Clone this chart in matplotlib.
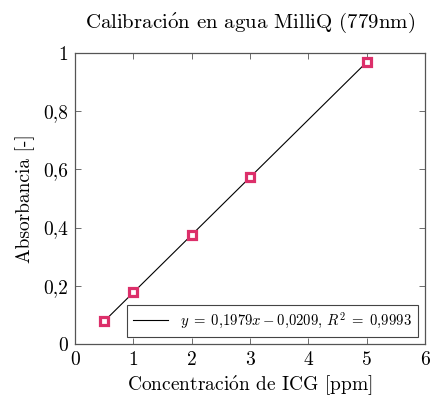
import numpy as np
import matplotlib.pyplot as plt

plt.rcParams['font.family'] = 'serif'
plt.rcParams['font.serif'] = ['cmr10']
plt.rcParams['mathtext.fontset'] = 'cm'
plt.rcParams['axes.unicode_minus'] = False

# Calibration data (ppm vs absorbance)
conc = [0.5, 1, 2, 3, 5]
absorb = [0.078, 0.178, 0.374, 0.573, 0.969]
slope = 0.1979
intercept = -0.0209
r2 = 0.9993

xticks = [0, 1, 2, 3, 4, 5, 6]
yticks = [0, 0.2, 0.4, 0.6, 0.8, 1]
ytick_labels = ['0', '0,2', '0,4', '0,6', '0,8', '1']

# cmr10 has no accented glyphs, so the accent goes through mathtext
o_acute = r'$\mathrm{\acute{o}}$'

fig = plt.figure(figsize=(4.31, 3.98), dpi=100)
ax = fig.add_axes([0.174, 0.1357, 0.812, 0.731])

xfit = np.array([conc[0], conc[-1]])
ax.plot(xfit, slope * xfit + intercept, color='black', lw=0.8,
        label=r'$y\;=\;0{,}1979x - 0{,}0209$, $R^2\;=\;0{,}9993$')
ax.plot(conc, absorb, ls='none', marker='s', ms=5.5, mfc='white',
        mec='#dc2f6a', mew=2.3, zorder=3)

ax.set_xlim(0, 6)
ax.set_ylim(0, 1)
ax.set_xticks(xticks)
ax.set_xticklabels([str(t) for t in xticks])
ax.set_yticks(yticks)
ax.set_yticklabels(ytick_labels)
ax.tick_params(direction='in', top=True, right=True, length=4, width=0.6,
               color='#555555', labelsize=14, pad=5)
for s in ax.spines.values():
    s.set_color('#555555')
    s.set_linewidth(0.9)

ax.set_title('Calibraci' + o_acute + 'n en agua MilliQ (779nm)', fontsize=15, pad=18)
ax.set_xlabel('Concentraci' + o_acute + 'n de ICG [ppm]', fontsize=14, labelpad=4)
ax.set_ylabel('Absorbancia [-]', fontsize=14, labelpad=6)

leg = ax.legend(loc='lower right', fontsize=10.6, fancybox=False,
                edgecolor='#444444', framealpha=1, handlelength=2.4,
                borderaxespad=0.5)
leg.get_frame().set_linewidth(0.8)

fig.savefig('out.png', dpi=100)
